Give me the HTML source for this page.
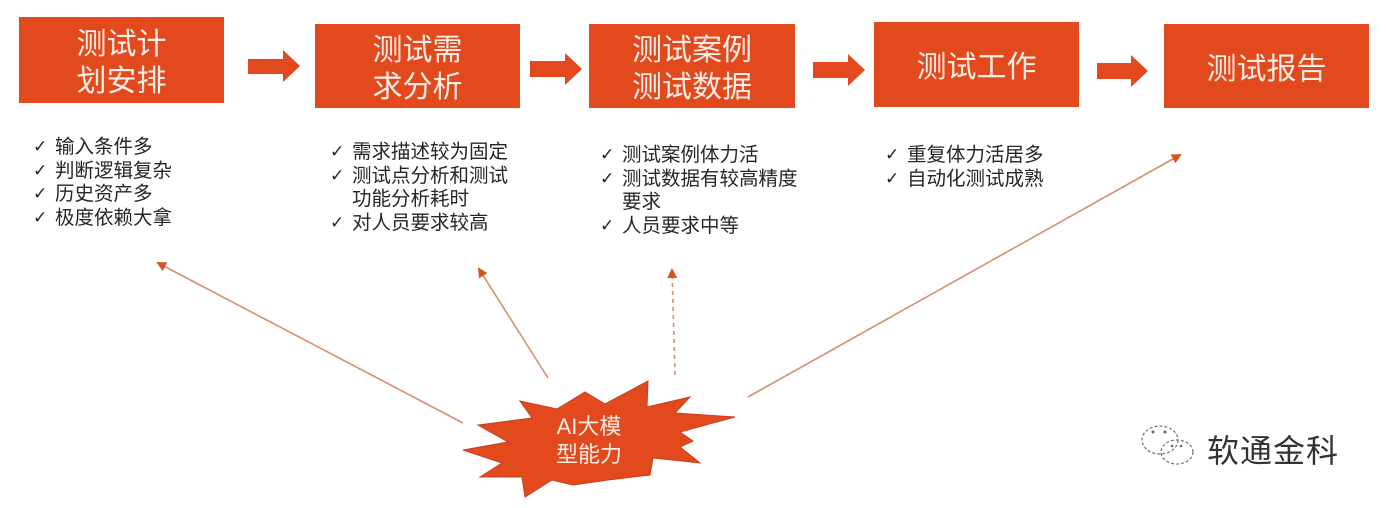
<!DOCTYPE html>
<html>
<head>
<meta charset="utf-8">
<style>
  html,body{margin:0;padding:0;background:#fff;}
  body{width:1386px;height:508px;position:relative;overflow:hidden;font-family:"Liberation Sans","Noto Sans CJK SC",sans-serif;}
  .box{position:absolute;background:#E24A1D;color:#FCEDE6;font-family:"Liberation Sans","Noto Sans CJK SC",sans-serif;font-size:30px;text-align:center;display:flex;flex-direction:column;justify-content:center;align-items:center;line-height:37px;box-sizing:border-box;padding-top:6px;}
  .list{position:absolute;font-size:19.5px;color:#262626;line-height:23.5px;font-family:"Liberation Sans","Noto Sans CJK SC",sans-serif;}
  .list div{position:relative;padding-left:22px;white-space:nowrap;}
  .list div .ck{position:absolute;left:0;top:0;font-family:"DejaVu Sans",sans-serif;font-size:17px;color:#222;}
  .logo{position:absolute;left:1207px;top:426px;font-size:32px;color:#333;font-family:"Liberation Sans","Noto Sans CJK SC",sans-serif;letter-spacing:1px;}
</style>
</head>
<body>
<svg width="1386" height="508" style="position:absolute;left:0;top:0">
  <defs>
    <marker id="ah" markerWidth="10" markerHeight="10" refX="8" refY="5" orient="auto" markerUnits="userSpaceOnUse">
      <path d="M0,0 L10,5 L0,10 z" fill="#D9531E"/>
    </marker>
  </defs>
  <!-- block arrows -->
  <polygon points="248,59 283,59 283,50 300,66 283,82 283,74 248,74" fill="#E24A1D"/>
  <polygon points="530,61 565,61 565,53 582,69 565,85 565,77 530,77" fill="#E24A1D"/>
  <polygon points="813,62 848,62 848,54 865,70 848,86 848,78 813,78" fill="#E24A1D"/>
  <polygon points="1097,63 1131,63 1131,55 1148,71 1131,87 1131,79 1097,79" fill="#E24A1D"/>
  <!-- thin connectors -->
  <line x1="463" y1="423" x2="158" y2="263" stroke="#D98C6A" stroke-width="1.6" marker-end="url(#ah)"/>
  <line x1="548" y1="378" x2="479" y2="269" stroke="#D98C6A" stroke-width="1.6" marker-end="url(#ah)"/>
  <line x1="675" y1="375" x2="672" y2="270" stroke="#D98C6A" stroke-width="1.6" stroke-dasharray="4,4" marker-end="url(#ah)"/>
  <line x1="748" y1="397" x2="1180" y2="155" stroke="#D98C6A" stroke-width="1.6" marker-end="url(#ah)"/>
  <!-- starburst -->
  <polygon points="463,450 508,442 478,425 532,418 520,401 557,409 585,392 605,404 648,381 647,407 690,397 675,413 735,417 680,432 693,441 680,447 700,463 653,458 650,475 608,480 573,485 552,480 525,497 522,477 480,477 502,463" fill="#E24A1D" stroke="#C9401A" stroke-width="1"/>
  <text x="589" y="434" font-size="22" fill="#FCEDE6" text-anchor="middle" font-family="Liberation Sans, Noto Sans CJK SC, sans-serif">AI大模</text>
  <text x="589" y="462" font-size="22" fill="#FCEDE6" text-anchor="middle" font-family="Liberation Sans, Noto Sans CJK SC, sans-serif">型能力</text>
  <!-- wechat icon -->
  <g fill="none" stroke="#7a7a7a" stroke-width="1.3" stroke-dasharray="3,2">
    <ellipse cx="1160" cy="440" rx="18" ry="14"/>
    <ellipse cx="1177" cy="452" rx="16" ry="12"/>
  </g>
  <g fill="#6a6a6a">
    <circle cx="1153" cy="432" r="1.5"/>
    <circle cx="1165" cy="432" r="1.5"/>
    <circle cx="1172" cy="446" r="1.3"/>
    <circle cx="1181" cy="446" r="1.3"/>
  </g>
</svg>

<div class="box" style="left:19px;top:17px;width:205px;height:86px;"><div>测试计</div><div>划安排</div></div>
<div class="box" style="left:315px;top:24px;width:205px;height:84px;"><div>测试需</div><div>求分析</div></div>
<div class="box" style="left:589px;top:24px;width:206px;height:84px;"><div>测试案例</div><div>测试数据</div></div>
<div class="box" style="left:874px;top:22px;width:205px;height:85px;"><div>测试工作</div></div>
<div class="box" style="left:1164px;top:24px;width:205px;height:84px;"><div>测试报告</div></div>

<div class="list" style="left:33px;top:136px;">
  <div><span class="ck">✓</span>输入条件多</div>
  <div><span class="ck">✓</span>判断逻辑复杂</div>
  <div><span class="ck">✓</span>历史资产多</div>
  <div><span class="ck">✓</span>极度依赖大拿</div>
</div>
<div class="list" style="left:330px;top:141px;">
  <div><span class="ck">✓</span>需求描述较为固定</div>
  <div><span class="ck">✓</span>测试点分析和测试</div>
  <div>功能分析耗时</div>
  <div><span class="ck">✓</span>对人员要求较高</div>
</div>
<div class="list" style="left:600px;top:144px;">
  <div><span class="ck">✓</span>测试案例体力活</div>
  <div><span class="ck">✓</span>测试数据有较高精度</div>
  <div>要求</div>
  <div><span class="ck">✓</span>人员要求中等</div>
</div>
<div class="list" style="left:885px;top:144px;">
  <div><span class="ck">✓</span>重复体力活居多</div>
  <div><span class="ck">✓</span>自动化测试成熟</div>
</div>

<div class="logo">软通金科</div>
</body>
</html>
